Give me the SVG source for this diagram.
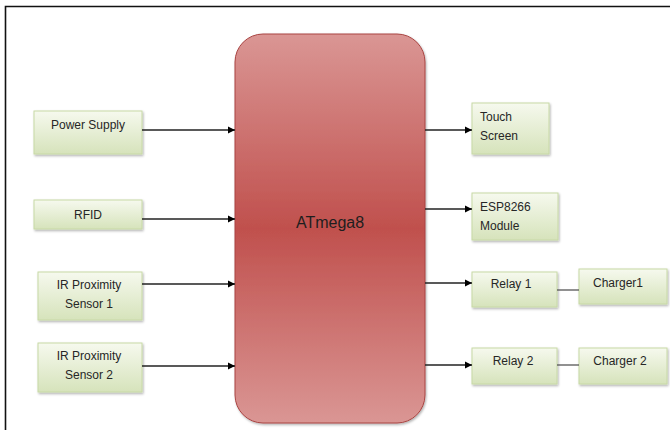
<svg xmlns="http://www.w3.org/2000/svg" width="670" height="430" viewBox="0 0 670 430">
<defs>
<linearGradient id="gBox" x1="0" y1="0" x2="0" y2="1">
<stop offset="0" stop-color="#f6f9ee"/>
<stop offset="1" stop-color="#d6e3bb"/>
</linearGradient>
<linearGradient id="gMcu" x1="0" y1="0" x2="0" y2="1">
<stop offset="0" stop-color="#da9694"/>
<stop offset="0.5" stop-color="#c0504d"/>
<stop offset="1" stop-color="#da9694"/>
</linearGradient>
<marker id="arr" markerWidth="8" markerHeight="8" refX="7" refY="4" orient="auto" markerUnits="userSpaceOnUse">
<path d="M0,0.5 L7,4 L0,7.5 Z" fill="#000"/>
</marker>
<filter id="sh" x="-10%" y="-10%" width="130%" height="130%">
<feDropShadow dx="1" dy="1.5" stdDeviation="0.8" flood-color="#000" flood-opacity="0.3"/>
</filter>
</defs>
<style>
.box{fill:url(#gBox);stroke:#c8d9a6;stroke-width:1;filter:url(#sh)}
.t{font-family:"Liberation Sans",Arial,sans-serif;font-size:12px;fill:#262626}
.c{text-anchor:middle}
.ln{stroke:#222;stroke-width:1.3;fill:none}
.ln2{stroke:#555;stroke-width:1.3;fill:none}
</style>
<rect x="0" y="0" width="670" height="430" fill="#fff"/>
<path d="M5.5,430 V6.5 H670" fill="none" stroke="#111" stroke-width="1.6"/>

<g id="mcu">
<rect x="235" y="34" width="190" height="389" rx="28" ry="28" fill="url(#gMcu)" stroke="#a94442" stroke-width="1" filter="url(#sh)"/>
<text class="t c" x="330" y="228" style="font-size:16px;fill:#1e1e1e">ATmega8</text>
</g>

<g id="power-supply">
<rect class="box" x="34" y="111" width="108" height="43"/>
<text class="t c" x="88" y="129">Power Supply</text>
</g>
<g id="rfid">
<rect class="box" x="34" y="200" width="108" height="29"/>
<text class="t c" x="88" y="219">RFID</text>
</g>
<g id="ir1">
<rect class="box" x="38" y="272" width="104" height="48"/>
<text class="t c" x="89" y="289">IR Proximity</text>
<text class="t c" x="89" y="308">Sensor 1</text>
</g>
<g id="ir2">
<rect class="box" x="38" y="343" width="104" height="49"/>
<text class="t c" x="89" y="360">IR Proximity</text>
<text class="t c" x="89" y="379">Sensor 2</text>
</g>
<g id="touch">
<rect class="box" x="472" y="103" width="77" height="51"/>
<text class="t" x="480" y="121">Touch</text>
<text class="t" x="480" y="140">Screen</text>
</g>
<g id="esp">
<rect class="box" x="472" y="193" width="86" height="47"/>
<text class="t" x="480" y="211">ESP8266</text>
<text class="t" x="480" y="230">Module</text>
</g>
<g id="relay1">
<rect class="box" x="472" y="272" width="85" height="35"/>
<text class="t c" x="511" y="288">Relay 1</text>
</g>
<g id="charger1">
<rect class="box" x="579" y="269" width="88" height="35"/>
<text class="t c" x="618" y="287">Charger1</text>
</g>
<g id="relay2">
<rect class="box" x="472" y="348" width="85" height="36"/>
<text class="t c" x="513" y="365">Relay 2</text>
</g>
<g id="charger2">
<rect class="box" x="579" y="348" width="88" height="36"/>
<text class="t c" x="620" y="365">Charger 2</text>
</g>

<g id="connectors">
<line class="ln" x1="142" y1="130" x2="235" y2="130" marker-end="url(#arr)"/>
<line class="ln" x1="142" y1="219" x2="235" y2="219" marker-end="url(#arr)"/>
<line class="ln" x1="142" y1="284" x2="235" y2="284" marker-end="url(#arr)"/>
<line class="ln" x1="142" y1="366" x2="235" y2="366" marker-end="url(#arr)"/>
<line class="ln" x1="425" y1="130" x2="472" y2="130" marker-end="url(#arr)"/>
<line class="ln" x1="425" y1="209" x2="472" y2="209" marker-end="url(#arr)"/>
<line class="ln" x1="425" y1="283" x2="472" y2="283" marker-end="url(#arr)"/>
<line class="ln" x1="425" y1="365" x2="472" y2="365" marker-end="url(#arr)"/>
<line class="ln2" x1="557" y1="290" x2="579" y2="290"/>
<line class="ln2" x1="557" y1="365" x2="579" y2="365"/>
</g>
</svg>
